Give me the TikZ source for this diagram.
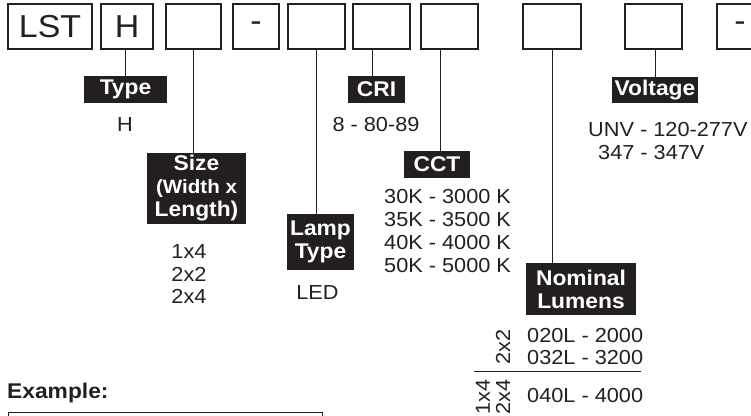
\documentclass[tikz,border=0pt]{standalone}
\usepackage{fontspec}
\setmainfont[FakeStretch=1.07]{Liberation Sans}
\definecolor{ink}{HTML}{231F20}

\begin{document}
\begin{tikzpicture}[x=1pt,y=-1pt,
  slot/.style={rectangle,draw=ink,line width=1.2pt,minimum height=45pt,inner sep=0pt,text=ink,font=\fontsize{31.7}{33}\selectfont},
  tag/.style={rectangle,fill=ink,text=white,inner sep=0pt,align=center,font=\fontsize{21.3}{23}\selectfont\bfseries},
  val/.style={inner sep=0pt,text=ink,font=\fontsize{20.3}{23}\selectfont},
  wire/.style={draw=ink,line width=0.9pt}]
\clip (0,0) rectangle (751,415);
\node (lst)  at  (50,26.5)   [slot,minimum width=84pt] {LST};
\node (typ)  at (127,26.5)   [slot,minimum width=52pt] {H};
\node (size) at (193.5,26.5) [slot,minimum width=55pt] {};
\node (dsh1) at (256,26.5)   [slot,minimum width=46pt] {-};
\node (lamp) at (316.5,26.5) [slot,minimum width=57pt] {};
\node (cri)  at (381.5,26.5) [slot,minimum width=57pt] {};
\node (cct)  at (449.5,26.5) [slot,minimum width=57pt] {};
\node (lum)  at (552,26.5)   [slot,minimum width=58pt] {};
\node (volt) at (653.5,26.5) [slot,minimum width=57pt] {};
\node (dsh2) at (740,26.5)   [slot,minimum width=46pt] {-};
\node (typtag)  at (125.5,89.5) [tag,minimum width=83pt,minimum height=27pt] {Type};
\node (critag)  at (376.5,89.5) [tag,minimum width=57pt,minimum height=27pt] {CRI};
\node (volttag) at (655,90)     [tag,minimum width=86pt,minimum height=26pt] {Voltage};
\node (ccttag)  at (437,164.5)  [tag,minimum width=66pt,minimum height=27pt] {CCT};
\node (sizetag) at (196.5,188.5) [tag,minimum width=99pt,minimum height=71pt]
    {Size\\\fontsize{19.2}{21.5}\selectfont(Width x\\Length)};
\node (lamptag) at (320.5,242)  [tag,minimum width=67pt,minimum height=56pt] {Lamp\\Type};
\node (lumtag)  at (581,289)    [tag,minimum width=110pt,minimum height=52pt] {Nominal\\Lumens};
\node (typval)   at (125,125)   [val] {H};
\node (crival)   at (376,125)   [val] {8 - 80-89};
\node (voltval)  at (588,130)   [val,anchor=west] {UNV - 120-277V};
\node (voltval2) at (598,153)   [val,anchor=west] {347 - 347V};
\node (sizeval)  at (189,274.5) [val,align=center,font=\fontsize{20.3}{22.5}\selectfont] {1x4\\2x2\\2x4};
\node (lampval)  at (317.5,293) [val] {LED};
\node (cctval)   at (384,231)   [val,anchor=west,align=left] {30K - 3000 K\\35K - 3500 K\\40K - 4000 K\\50K - 5000 K};
\node (lumval)   at (527,347)   [val,anchor=west,align=left,font=\fontsize{20.3}{22}\selectfont] {020L - 2000\\032L - 3200};
\node (lumval2)  at (527,396)   [val,anchor=west] {040L - 4000};
\node (sq22)     at (503,347)   [val,rotate=90] {2x2};
\node (sq14)     at (483,397)   [val,rotate=90] {1x4};
\node (sq24)     at (503,397)   [val,rotate=90] {2x4};
\draw [wire] (474,371) -- (641,371);
\draw [wire] (typtag.north |- typ.south) -- (typtag.north);
\draw [wire] (size.south) -- (size.south |- sizetag.north);
\draw [wire] (lamp.south) -- (lamp.south |- lamptag.north);
\draw [wire] ([xshift=-9.5pt]cri.south) -- ([xshift=-9.5pt]cri.south |- critag.north);
\draw [wire] ([xshift=-9.5pt]cct.south) -- ([xshift=-9.5pt]cct.south |- ccttag.north);
\draw [wire] (lum.south) -- (lum.south |- lumtag.north);
\draw [wire] (volttag.north |- volt.south) -- (volttag.north);
\node (example) at (7,393) [val,anchor=west,font=\fontsize{21.3}{23}\selectfont\bfseries] {Example:};
\draw [draw=ink,line width=1pt] (8,430) -- (8,412) -- (322,412) -- (322,430);
\end{tikzpicture}
\end{document}
